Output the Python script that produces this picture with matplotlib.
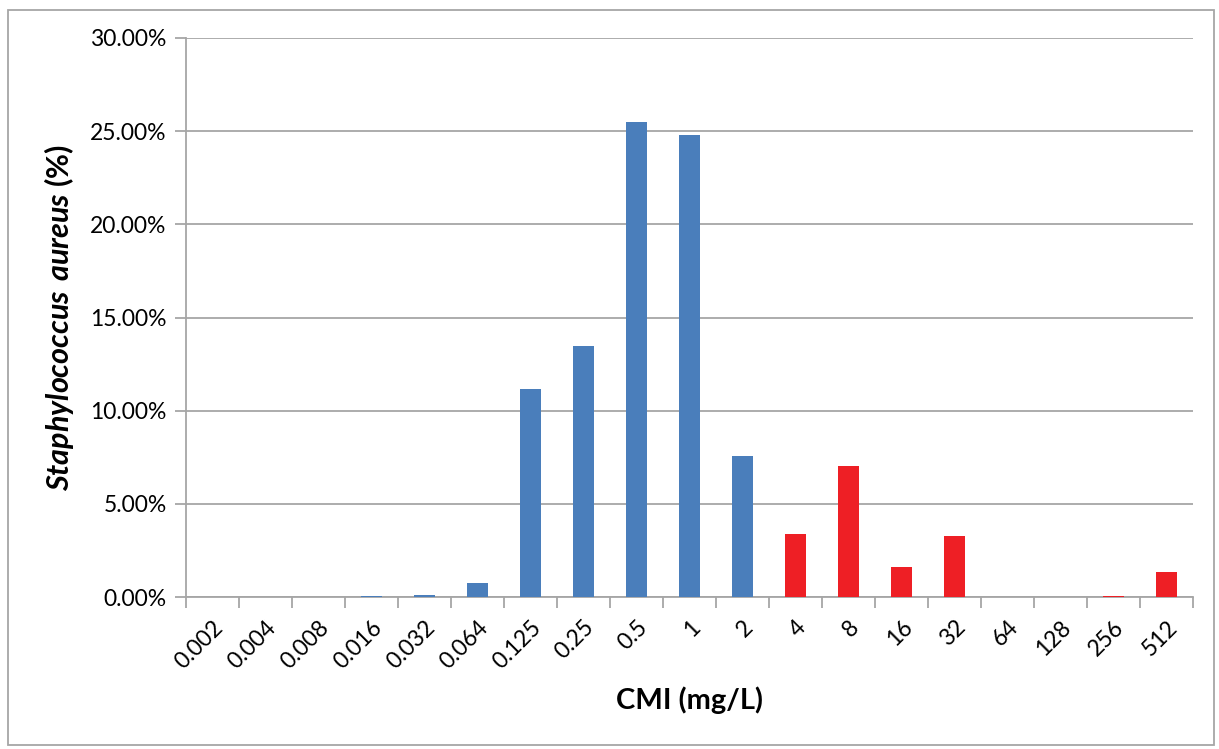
import matplotlib.pyplot as plt
import matplotlib.patches as mpatches
import numpy as np

plt.rcParams['font.family'] = ['Lato', 'DejaVu Sans']
plt.rcParams['mathtext.fontset'] = 'custom'
plt.rcParams['mathtext.bfit'] = 'Lato:bold:italic'
plt.rcParams['mathtext.rm'] = 'Lato'

cmi = ['0.002', '0.004', '0.008', '0.016', '0.032', '0.064', '0.125', '0.25', '0.5',
       '1', '2', '4', '8', '16', '32', '64', '128', '256', '512']
pct = [0.0, 0.0, 0.0, 0.04, 0.13, 0.75, 11.17, 13.47, 25.5,
       24.78, 7.58, 3.37, 7.03, 1.6, 3.27, 0.0, 0.0, 0.05, 1.33]
resistant = [False] * 11 + [True] * 8

blue = '#4A7EBB'
red = '#EE1F25'
grey = '#A6A6A6'

fig = plt.figure(figsize=(12.19, 7.49), dpi=100)
ax = fig.add_axes([0.1526, 0.2029, 0.8261, 0.7464])

x = np.arange(len(cmi))
colors = [red if r else blue for r in resistant]
ax.bar(x, pct, width=0.41, color=colors, zorder=3)

ax.set_xlim(-0.5, len(cmi) - 0.5)
ax.set_ylim(0, 30)
ax.set_yticks(np.arange(0, 31, 5))
ax.set_yticklabels(['%.2f%%' % v for v in np.arange(0, 31, 5)], fontsize=16.5)
ax.yaxis.grid(True, color=grey, linewidth=1.3, zorder=0)

ax.set_xticks(x)
ax.set_xticklabels(cmi, rotation=45, ha='right', va='top', rotation_mode='anchor', fontsize=16.5)
ax.tick_params(axis='x', length=0, pad=14)
ax.set_xticks(np.arange(-0.5, len(cmi)), minor=True)
ax.tick_params(axis='x', which='minor', length=8, width=1.3, color=grey)
ax.tick_params(axis='y', length=8, width=1.3, color=grey, pad=6)

for s in ['top', 'right']:
    ax.spines[s].set_visible(False)
for s in ['left', 'bottom']:
    ax.spines[s].set_color(grey)
    ax.spines[s].set_linewidth(1.3)

ax.set_xlabel('CMI (mg/L)', fontsize=21, fontweight='bold', labelpad=10)
ax.set_ylabel(r'$\mathbfit{Staphylococcus\ aureus}$ (%)', fontsize=22, fontweight='bold', labelpad=10)

# chart area border
fig.patches.append(mpatches.Rectangle((8 / 1219, 4 / 749), 1206 / 1219, 735 / 749,
                                      transform=fig.transFigure, fill=False,
                                      edgecolor=grey, linewidth=1.3))

fig.savefig('out.png', dpi=100)
